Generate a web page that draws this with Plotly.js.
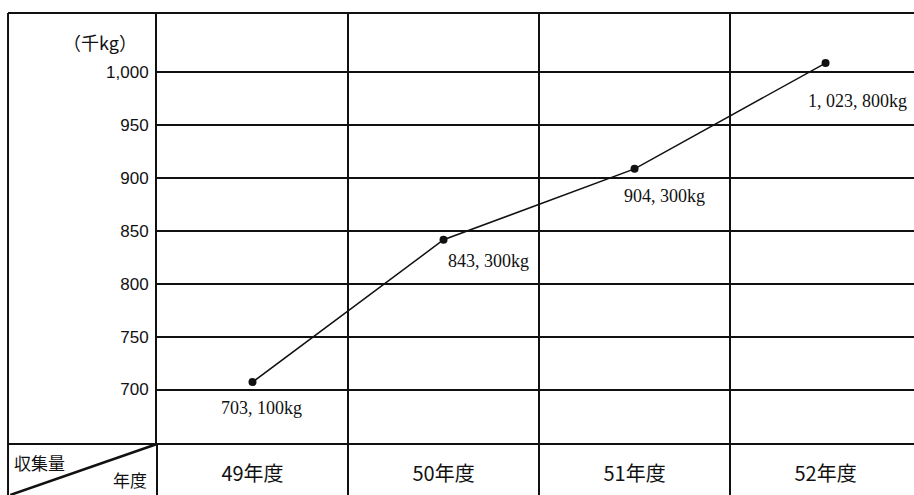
<!DOCTYPE html>
<html>
<head>
<meta charset="utf-8">
<script src="https://cdn.plot.ly/plotly-3.0.1.min.js"></script>
<style>html,body{margin:0;padding:0;background:#fff;}#chart{width:914px;height:495px;}</style>
</head>
<body>
<div id="chart"></div>
<script>
// Data
var years = ["49年度", "50年度", "51年度", "52年度"];
// vertical positions of the points as drawn (千kg)
var collected = [707, 841.5, 908.5, 1008.5];
// value labels printed next to the points
var valueLabels = ["703, 100kg", "843, 300kg", "904, 300kg", "1, 023, 800kg"];
var yTickVals = [700, 750, 800, 850, 900, 950, 1000];
var yTickText = ["700", "750", "800", "850", "900", "950", "1,000"];
var yUnit = "（千kg）";
var cornerTop = "収集量";
var cornerBottom = "年度";

var ink = "#111";
var labelShift = [[9, -26], [45, -21], [30, -27], [32, -38]];

var trace = {
  x: years,
  y: collected,
  type: "scatter",
  mode: "lines+markers",
  line: {color: ink, width: 1.5},
  marker: {color: ink, size: 8},
  hoverinfo: "skip",
  showlegend: false
};

var annotations = valueLabels.map(function (t, i) {
  return {
    x: years[i], y: collected[i], xref: "x", yref: "y",
    xanchor: "center", yanchor: "middle",
    text: t, showarrow: false,
    xshift: labelShift[i][0], yshift: labelShift[i][1],
    font: {family: "Liberation Serif, DejaVu Serif, serif", size: 18, color: ink}
  };
});
annotations.push({
  xref: "paper", yref: "paper", x: -0.0753, y: 0.9327,
  xanchor: "center", yanchor: "middle",
  text: yUnit, showarrow: false,
  font: {family: "Noto Sans CJK JP", size: 18, color: ink}
});
annotations.push({
  xref: "paper", yref: "paper", x: -0.1546, y: -0.0418,
  xanchor: "center", yanchor: "middle",
  text: cornerTop, showarrow: false,
  font: {family: "Noto Sans CJK JP", size: 17, color: ink}
});
annotations.push({
  xref: "paper", yref: "paper", x: -0.0357, y: -0.0835,
  xanchor: "center", yanchor: "middle",
  text: cornerBottom, showarrow: false,
  font: {family: "Noto Sans CJK JP", size: 17, color: ink}
});

var L = -0.1968, B = -0.1183;
var shapes = [
  {type: "line", xref: "paper", yref: "paper", x0: L, x1: 1, y0: 1, y1: 1, line: {color: ink, width: 2}},
  {type: "line", xref: "paper", yref: "paper", x0: L, x1: 1, y0: 0, y1: 0, line: {color: ink, width: 2}},
  {type: "line", xref: "paper", yref: "paper", x0: L, x1: L, y0: B, y1: 1, line: {color: ink, width: 2}},
  {type: "line", xref: "paper", yref: "paper", x0: L + 0.003, x1: 0, y0: B, y1: 0, line: {color: ink, width: 2.5}}
];

var layout = {
  width: 914, height: 495,
  margin: {l: 157, r: 0, t: 13, b: 51, pad: 0},
  paper_bgcolor: "#fff", plot_bgcolor: "#fff",
  xaxis: {
    type: "category",
    range: [-0.5, 3.463],
    tickson: "boundaries",
    showgrid: true, gridcolor: ink, gridwidth: 2,
    ticks: "outside", ticklen: 51, tickwidth: 2, tickcolor: ink,
    ticklabelstandoff: 16,
    showline: false, zeroline: false,
    tickfont: {family: "Noto Sans CJK JP", size: 20, color: ink},
    fixedrange: true
  },
  yaxis: {
    range: [648.5, 1055.8],
    tickmode: "array", tickvals: yTickVals, ticktext: yTickText,
    showgrid: true, gridcolor: ink, gridwidth: 2,
    showline: true, linecolor: ink, linewidth: 2,
    zeroline: false, ticks: "", ticklabelstandoff: 3,
    tickfont: {family: "Liberation Sans, Arial, sans-serif", size: 17, color: ink},
    fixedrange: true
  },
  shapes: shapes,
  annotations: annotations,
  showlegend: false
};

Plotly.newPlot("chart", [trace], layout, {displayModeBar: false, staticPlot: true});
</script>
</body>
</html>
